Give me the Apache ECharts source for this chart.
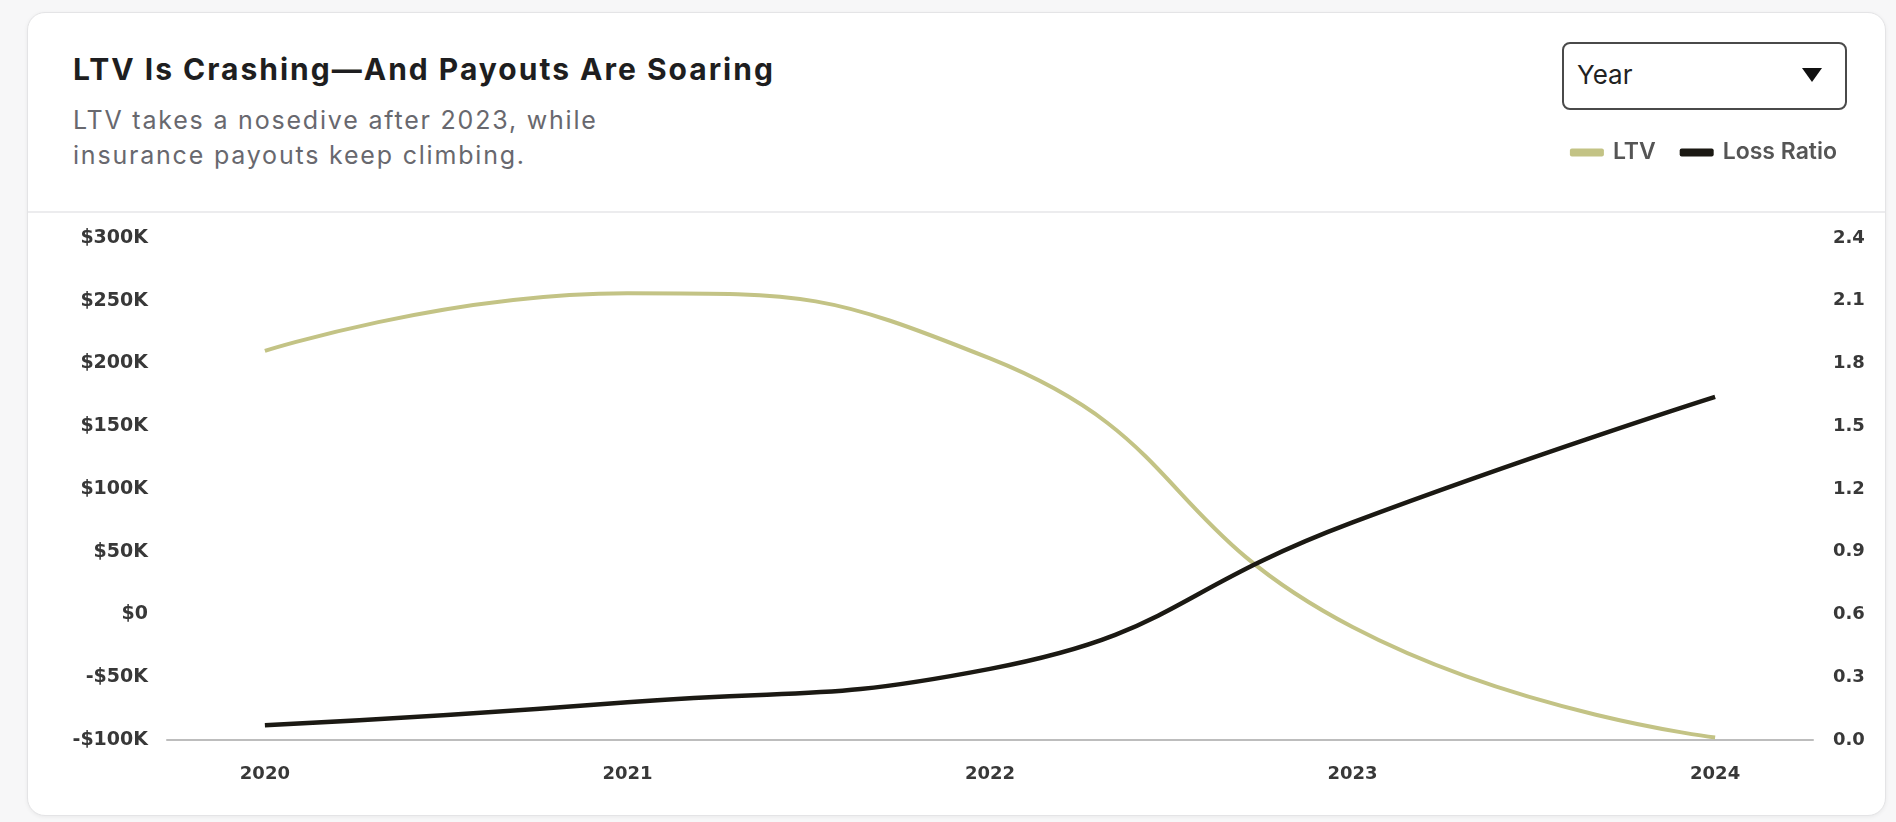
<!DOCTYPE html>
<html>
<head>
<meta charset="utf-8">
<script src="https://cdn.jsdelivr.net/npm/echarts@6/dist/echarts.min.js"></script>
<style>
  html, body { margin: 0; padding: 0; width: 1896px; height: 822px; background: #f7f7f8; overflow: hidden; }
  .card {
    position: absolute; left: 27px; top: 12px; width: 1857px; height: 802px;
    background: #ffffff; border: 1px solid #e4e4e6; border-radius: 18px;
    box-shadow: 0 1px 4px rgba(0,0,0,0.06);
  }
  .divider { position: absolute; left: 28px; top: 211px; width: 1857px; height: 2px; background: #ececee; }
  .title {
    position: absolute; left: 73px; top: 51px; margin: 0;
    font-family: Inter, sans-serif; font-weight: 700; font-size: 30px; line-height: 36px;
    letter-spacing: 2px; color: #1e1e20; white-space: nowrap;
  }
  .subtitle {
    position: absolute; left: 73px; top: 103px; margin: 0;
    font-family: Inter, sans-serif; font-weight: 400; font-size: 25px; line-height: 35px;
    letter-spacing: 1.8px; color: #68686e; white-space: nowrap;
  }
  .select {
    position: absolute; left: 1562px; top: 42px; width: 285px; height: 68px; box-sizing: border-box;
    border: 2px solid #4a4a4a; border-radius: 8px; background: #fff;
    font-family: Inter, sans-serif; font-size: 26px; color: #222;
  }
  .select span { position: absolute; left: 13px; top: 15px; line-height: 32px; }
  .select i { position: absolute; left: 238px; top: 24px; width: 0; height: 0;
    border-left: 10px solid transparent; border-right: 10px solid transparent; border-top: 14px solid #111; }
  #chart { position: absolute; left: 0; top: 0; width: 1896px; height: 822px; }
</style>
</head>
<body>
<div class="card"></div>
<div class="divider"></div>
<h1 class="title">LTV Is Crashing—And Payouts Are Soaring</h1>
<p class="subtitle">LTV takes a nosedive after 2023, while<br>insurance payouts keep climbing.</p>
<div class="select"><span>Year</span><i></i></div>
<div id="chart"></div>
<script>
// Yearly values
const years = [2020, 2021, 2022, 2023, 2024];
const ltvValues = [210000, 256000, 204000, -10000, -98000];
const lossRatioValues = [0.07, 0.18, 0.34, 1.04, 1.64];

// Axis ranges
const ltvAxis = { min: -100000, max: 300000, interval: 50000 };
const ratioAxis = { min: 0, max: 2.4, interval: 0.3 };

const LTV_COLOR = '#c3c385';
const LOSS_COLOR = '#1b1913';
const xPad = 0.27;

const chart = echarts.init(document.getElementById('chart'), null, { renderer: 'canvas' });

const axisFont = { fontFamily: 'DejaVu Sans', fontWeight: 'bold', fontSize: 18, color: '#383838' };

chart.setOption({
  animation: false,
  backgroundColor: 'transparent',
  legend: {
    data: ['LTV', 'Loss Ratio'],
    right: 54, top: 136,
    icon: 'roundRect', itemWidth: 34, itemHeight: 8, itemGap: 24,
    textStyle: { fontFamily: 'Inter', fontWeight: 600, fontSize: 23, color: '#555', padding: [0, 0, 0, 4] }
  },
  grid: { left: 167, right: 83, top: 238, bottom: 82 },
  xAxis: {
    type: 'value',
    min: years[0] - xPad,
    max: years[years.length - 1] + xPad,
    splitLine: { show: false },
    axisLine: { show: true, onZero: false, lineStyle: { color: '#bdbdbd', width: 2 } },
    axisTick: { show: false },
    axisLabel: { ...axisFont, margin: 25, customValues: years, formatter: v => String(v) }
  },
  yAxis: [
    {
      type: 'value', ...ltvAxis,
      splitLine: { show: false }, axisLine: { show: false }, axisTick: { show: false },
      axisLabel: {
        ...axisFont, fontSize: 19, margin: 19,
        formatter: v => (v < 0 ? '-' : '') + '$' + (v === 0 ? '0' : Math.abs(v / 1000) + 'K')
      }
    },
    {
      type: 'value', ...ratioAxis, position: 'right',
      splitLine: { show: false }, axisLine: { show: false }, axisTick: { show: false },
      axisLabel: { ...axisFont, margin: 20, formatter: v => v.toFixed(1) }
    }
  ],
  series: [
    {
      name: 'LTV', type: 'line', yAxisIndex: 0,
      data: years.map((y, i) => [y, ltvValues[i]]),
      smooth: 0.5, showSymbol: false,
      lineStyle: { color: LTV_COLOR, width: 4 }, itemStyle: { color: LTV_COLOR }
    },
    {
      name: 'Loss Ratio', type: 'line', yAxisIndex: 1,
      data: years.map((y, i) => [y, lossRatioValues[i]]),
      smooth: 0.5, showSymbol: false,
      lineStyle: { color: LOSS_COLOR, width: 4.5 }, itemStyle: { color: LOSS_COLOR }
    }
  ]
});
</script>
</body>
</html>
